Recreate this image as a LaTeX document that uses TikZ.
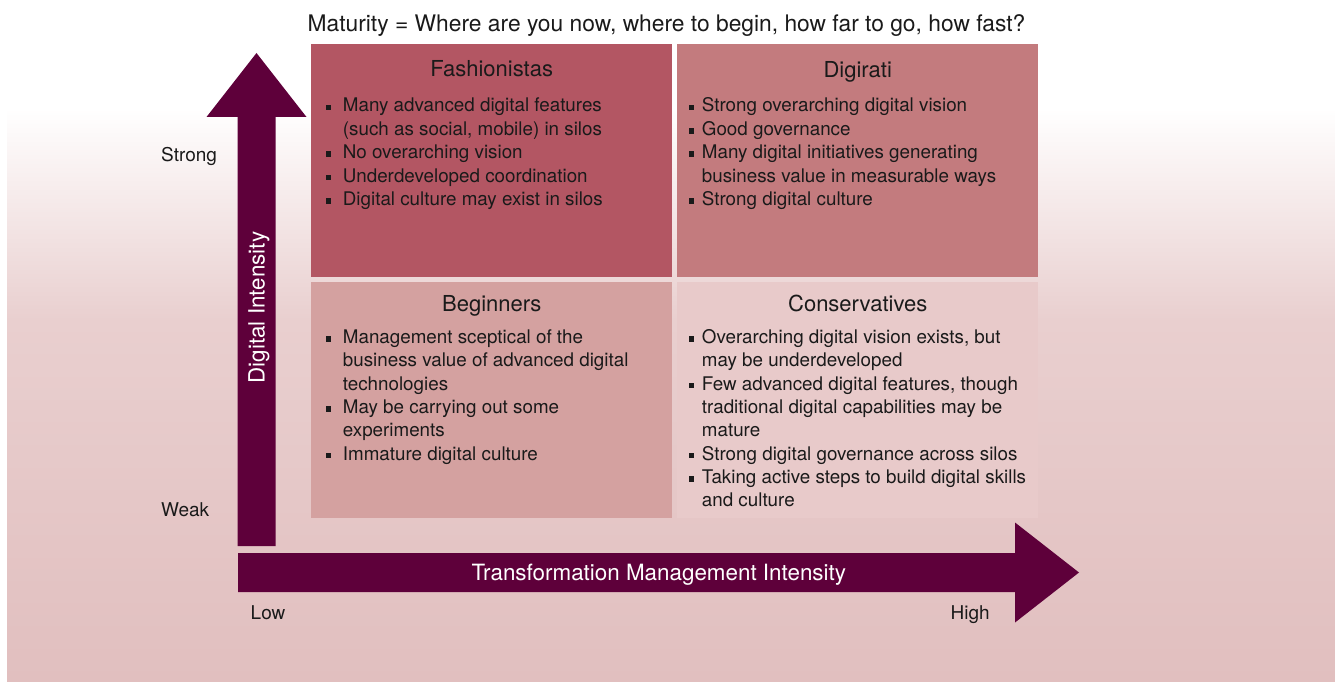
\documentclass[tikz,border=0pt]{standalone}
\usepackage{fontspec}
\setmainfont{TeX Gyre Heros}
\usetikzlibrary{positioning}
\definecolor{arrowcol}{HTML}{5E003A}
\definecolor{fashcol}{HTML}{B35663}
\definecolor{digicol}{HTML}{C37B7E}
\definecolor{begicol}{HTML}{D4A1A0}
\definecolor{conscol}{HTML}{E8CACA}
\definecolor{bgmid}{HTML}{E9CFCF}
\definecolor{bglow}{HTML}{E1BFBF}
\definecolor{textcol}{HTML}{1A1A1A}
\newcommand{\sqbullet}{\rule[1.8pt]{5.5pt}{5.5pt}}
\begin{document}
\begin{tikzpicture}[x=1pt,y=-1pt,
	quad/.style={inner sep=0pt,minimum width=361pt,anchor=north west},
	head/.style={text=textcol,inner sep=0pt,anchor=base,font=\fontsize{22}{26}\selectfont},
	axtitle/.style={text=white,inner sep=0pt,anchor=base,font=\fontsize{22.4}{26}\selectfont},
	axval/.style={text=textcol,inner sep=0pt,anchor=base west,font=\fontsize{19}{23}\selectfont},
	bullets/.style={text=textcol,inner sep=0pt,anchor=base west,font=\fontsize{18.8}{23.35}\selectfont}]
	%
	\def\gapleft{11.7pt}
	\def\gapright{7.7pt}
	\useasboundingbox (0,0) rectangle (1335,682);
	% background
		\shade[top color=white,bottom color=bgmid] (7,108) rectangle (1335,320);
		\shade[top color=bgmid,bottom color=bglow] (7,320) rectangle (1335,682);
	% title
		\node[head,font=\fontsize{22.8}{26}\selectfont] (title) at (666.5,31.7) {Maturity = Where are you now, where to begin, how far to go, how fast?};
	% quadrants
		\foreach \name/\x/\y/\h/\col in {fash/311/44/233/fashcol,digi/677/44/233/digicol,begi/311/282/236/begicol,cons/677/282/236/conscol}
			\node[quad,fill=\col,minimum height=\h pt] (\name) at (\x,\y) {};
		\node[head] (fash-head) at ([yshift=-33pt]fash.north) {Fashionistas};
		\node[head] (digi-head) at ([yshift=-33.3pt]digi.north) {Digirati};
		\node[head] (begi-head) at ([yshift=-29.7pt]begi.north) {Beginners};
		\node[head] (cons-head) at ([yshift=-29.7pt]cons.north) {Conservatives};
	% bullet lists
		\node[bullets] (fash-list) at ([xshift=14.5pt,yshift=-68pt]fash.north west) {%
			\begin{tabular}[t]{@{}l@{\hspace{\gapleft}}l@{}}
			\sqbullet & Many advanced digital features\\
			          & (such as social, mobile) in silos\\
			\sqbullet & No overarching vision\\
			\sqbullet & Underdeveloped coordination\\
			\sqbullet & Digital culture may exist in silos
			\end{tabular}};
		\node[bullets] (digi-list) at ([xshift=11.5pt,yshift=-68pt]digi.north west) {%
			\begin{tabular}[t]{@{}l@{\hspace{\gapright}}l@{}}
			\sqbullet & Strong overarching digital vision\\
			\sqbullet & Good governance\\
			\sqbullet & Many digital initiatives generating\\
			          & business value in measurable ways\\
			\sqbullet & Strong digital culture
			\end{tabular}};
		\node[bullets] (begi-list) at ([xshift=14.5pt,yshift=-61.3pt]begi.north west) {%
			\begin{tabular}[t]{@{}l@{\hspace{\gapleft}}l@{}}
			\sqbullet & Management sceptical of the\\
			          & business value of advanced digital\\
			          & technologies\\
			\sqbullet & May be carrying out some\\
			          & experiments\\
			\sqbullet & Immature digital culture
			\end{tabular}};
		\node[bullets] (cons-list) at ([xshift=11.5pt,yshift=-61.3pt]cons.north west) {%
			\begin{tabular}[t]{@{}l@{\hspace{\gapright}}l@{}}
			\sqbullet & Overarching digital vision exists, but\\
			          & may be underdeveloped\\
			\sqbullet & Few advanced digital features, though\\
			          & traditional digital capabilities may be\\
			          & mature\\
			\sqbullet & Strong digital governance across silos\\
			\sqbullet & Taking active steps to build digital skills\\
			          & and culture
			\end{tabular}};
	% axes
		\fill[arrowcol] (237.5,546) -- (237.5,117) -- (206.5,117) -- (256.5,53)
			-- (306.5,117) -- (275.5,117) -- (275.5,546) -- cycle;
		\fill[arrowcol] (238,553) -- (1015,553) -- (1015,522.5) -- (1079,572.5)
			-- (1015,622.5) -- (1015,592) -- (238,592) -- cycle;
		\node[axtitle,rotate=90] (yaxis) at (264.5,307.5) {Digital Intensity};
		\node[axtitle] (xaxis) at (658.8,580) {Transformation Management Intensity};
	% axis values
		\foreach \x/\y/\txt in {161/161.7/Strong,161/516.7/Weak,250.5/619/Low,950.5/619/High}
			\node[axval] (val-\txt) at (\x,\y) {\txt};
\end{tikzpicture}
\end{document}
